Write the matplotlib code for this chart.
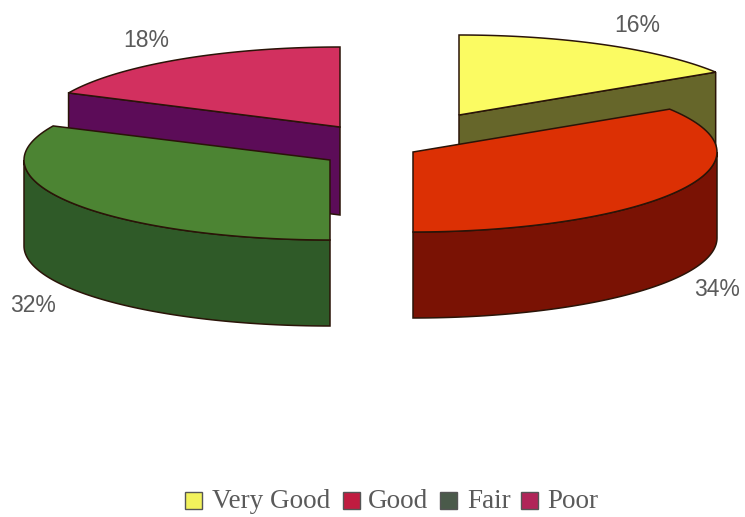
import numpy as np
import matplotlib
matplotlib.use('Agg')
import matplotlib.pyplot as plt
from matplotlib.patches import Polygon, Rectangle

categories = ['Very Good', 'Good', 'Fair', 'Poor']
shares = [16, 34, 32, 18]

top_colors = ['#FBFB62', '#DC3004', '#4C8433', '#D2305F']
side_colors = ['#66662A', '#7A1204', '#2F5A28', '#5C0C58']
legend_colors = ['#F2F25C', '#C01C40', '#4A5A4A', '#B02458']

# wedge anchors in pixels, each slice pulled away from the middle
centers = {'Very Good': (459, 115), 'Good': (413, 152), 'Fair': (330, 160), 'Poor': (340, 127)}
radii = {'Very Good': 304, 'Good': 304, 'Fair': 306, 'Poor': 300}
depths = {'Very Good': 86, 'Good': 86, 'Fair': 86, 'Poor': 88}
label_pos = {'Very Good': (637, 23), 'Good': (717, 287), 'Fair': (33, 303), 'Poor': (146, 38)}
legend_x = {'Very Good': (185, 212), 'Good': (343, 368), 'Fair': (440, 467), 'Poor': (521, 547)}

RY = 80
EDGE = '#2A1408'
GRAY = '#5A5A5A'


def rim(cx, cy, rx, a0, a1, n=80):
    # a = degrees clockwise from 12 o'clock
    t = np.radians(np.linspace(a0, a1, n))
    return np.column_stack([cx + rx * np.sin(t), cy - RY * np.cos(t)])


def draw_slice(ax, cx, cy, rx, depth, a0, a1, top, side):
    down = np.array([0, depth])
    apex = np.array([cx, cy])

    # cut faces looking towards the viewer
    if 180 < a0 < 360:
        p = rim(cx, cy, rx, a0, a0, 1)[0]
        ax.add_patch(Polygon([apex, p, p + down, apex + down], fc=side, ec=EDGE, lw=1.1))
    if 0 < a1 < 180:
        p = rim(cx, cy, rx, a1, a1, 1)[0]
        ax.add_patch(Polygon([apex, p, p + down, apex + down], fc=side, ec=EDGE, lw=1.1))

    # outer wall, front half only
    w0, w1 = max(a0, 90), min(a1, 270)
    if w1 > w0:
        arc = rim(cx, cy, rx, w0, w1)
        ax.add_patch(Polygon(np.vstack([arc, (arc + down)[::-1]]), fc=side, ec=EDGE, lw=1.1))

    ax.add_patch(Polygon(np.vstack([apex, rim(cx, cy, rx, a0, a1)]), fc=top, ec=EDGE, lw=1.1))


fig = plt.figure(figsize=(7.45, 5.17), dpi=100)
ax = fig.add_axes([0, 0, 1, 1])
ax.set_xlim(0, 745)
ax.set_ylim(517, 0)
ax.axis('off')

edges = np.cumsum([0] + shares) / sum(shares) * 360

# back slices first so the front ones sit over them
for i in [3, 0, 2, 1]:
    name = categories[i]
    cx, cy = centers[name]
    draw_slice(ax, cx, cy, radii[name], depths[name], edges[i], edges[i + 1],
               top_colors[i], side_colors[i])

for name, value in zip(categories, shares):
    x, y = label_pos[name]
    ax.text(x, y, f'{value}%', ha='center', va='center_baseline', fontsize=16.5,
            family='Liberation Sans', color=GRAY)

for name, color in zip(categories, legend_colors):
    box_x, text_x = legend_x[name]
    ax.add_patch(Rectangle((box_x, 492), 17, 17, fc=color, ec='#555555', lw=1))
    ax.text(text_x, 508, name, ha='left', va='baseline', fontsize=19.5,
            family='Liberation Serif', color=GRAY)

fig.savefig('out.png', dpi=100)
